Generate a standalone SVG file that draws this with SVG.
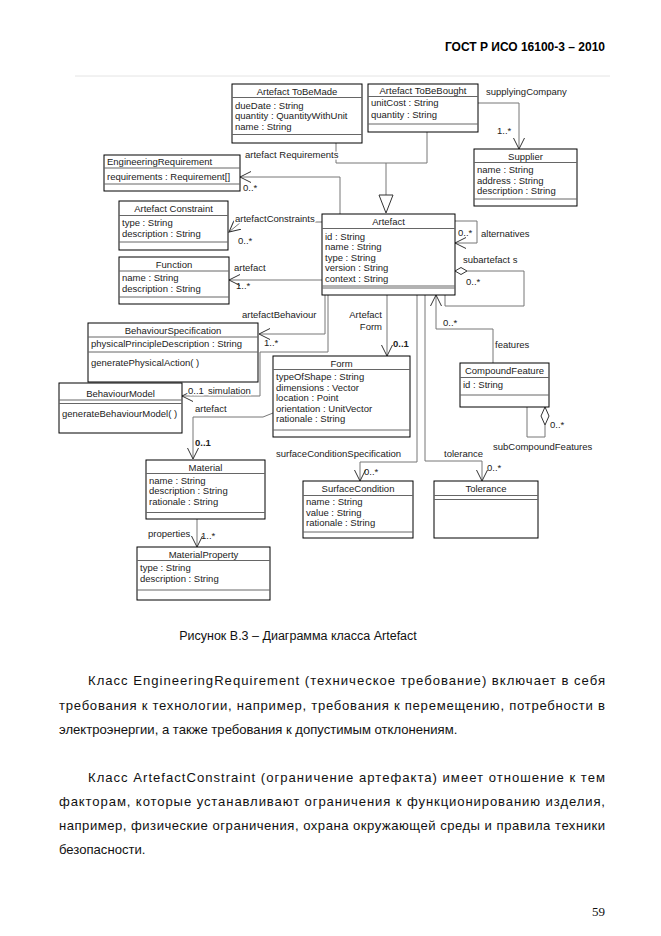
<svg xmlns="http://www.w3.org/2000/svg" width="661" height="936" viewBox="0 0 661 936">
<style>
.bg{fill:#fff}
.box{fill:#fff;stroke:#000;stroke-width:1}
.sep{stroke:#666;stroke-width:1}
.t{font-family:"Liberation Sans",Arial,sans-serif;font-size:9.5px;fill:#222}
.c{text-anchor:middle}
.e{text-anchor:end}
.b{font-weight:bold}
.conn{fill:none;stroke:#777;stroke-width:1}
.halo{paint-order:stroke;stroke:#fff;stroke-width:3px;stroke-linejoin:round}
.body{font-family:"Liberation Sans",Arial,sans-serif;font-size:13.1px;fill:#111}
</style>
<defs>
<marker id="arr" viewBox="0 0 12 12" refX="11" refY="6" markerWidth="12" markerHeight="12" markerUnits="userSpaceOnUse" orient="auto">
<path d="M0,0.5 L11,6 L0,11.5" fill="none" stroke="#333" stroke-width="1"/>
</marker>
</defs>
<rect class="bg" x="0" y="0" width="661" height="936"/>
<text x="605" y="51" text-anchor="end" style="font-family:'Liberation Sans',Arial,sans-serif;font-size:12px;font-weight:bold;fill:#000">ГОСТ Р ИСО 16100-3 – 2010</text>
<line x1="75" y1="76" x2="610" y2="76" stroke="#e4e4e4" stroke-width="1"/>

<g id="connectors">
<path class="conn" d="M478,103 H519 V149" marker-end="url(#arr)"/>
<path class="conn" d="M336,143 V163 H427 V132 M386,163 V195"/>
<polygon points="379,195 393,195 386,213" fill="#fff" stroke="#333" stroke-width="1"/>
<path class="conn" d="M340,214 V177 H240" marker-end="url(#arr)"/>
<path class="conn" d="M322,222 H241 L229,232" marker-end="url(#arr)"/>
<path class="conn" d="M322,280 H229" marker-end="url(#arr)"/>
<path class="conn" d="M325,295 V334 H259" marker-end="url(#arr)"/>
<path class="conn" d="M328,295 V352 H260 V396 H182" marker-end="url(#arr)"/>
<path class="conn" d="M387,295 V356" marker-end="url(#arr)"/>
<path class="conn" d="M273,413 L263,417 H193 V459" marker-end="url(#arr)"/>
<path class="conn" d="M197,519 V547" marker-end="url(#arr)"/>
<path class="conn" d="M417,295 V462 H360 V481" marker-end="url(#arr)"/>
<path class="conn" d="M425,295 V461 H482 V481" marker-end="url(#arr)"/>
<path class="conn" d="M493,363 V329 H436 V295" marker-end="url(#arr)"/>
<path class="conn" d="M467,271 H524 V306 H445 V295"/>
<polygon points="455,271 461,267.5 467,271 461,274.5" fill="#fff" stroke="#333" stroke-width="1"/>
<path class="conn" d="M455,221 H477 V243 H455" marker-end="url(#arr)"/>
<path class="conn" d="M545,425 V437 H527 V407"/>
<polygon points="545,407 549,416 545,425 541,416" fill="#fff" stroke="#333" stroke-width="1"/>

<text class="t" x="486" y="95">supplyingCompany</text>
<text class="t" x="497" y="134">1..*</text>
<text class="t halo" x="245" y="158">artefact Requirements</text>
<text class="t" x="243" y="191">0..*</text>
<text class="t halo" x="235" y="222">artefactConstraints</text>
<text class="t" x="238" y="244">0..*</text>
<text class="t" x="234" y="271">artefact</text>
<text class="t" x="236" y="289">1..*</text>
<text class="t" x="242" y="318">artefactBehaviour</text>
<text class="t" x="264" y="346">1..*</text>
<text class="t halo" x="188" y="394">0..1</text>
<text class="t halo" x="208" y="394">simulation</text>
<text class="t" x="195" y="412">artefact</text>
<text class="t b" x="195" y="446">0..1</text>
<text class="t e" x="382" y="318">Artefact</text>
<text class="t e" x="382" y="330">Form</text>
<text class="t b" x="393" y="347">0..1</text>
<text class="t" x="148" y="537">properties</text>
<text class="t" x="201" y="539">1..*</text>
<text class="t" x="276" y="457">surfaceConditionSpecification</text>
<text class="t" x="364" y="475">0..*</text>
<text class="t" x="444" y="457">tolerance</text>
<text class="t" x="487" y="471">0..*</text>
<text class="t" x="443" y="326">0..*</text>
<text class="t" x="495" y="348">features</text>
<text class="t" x="463" y="263">subartefact s</text>
<text class="t" x="466" y="285">0..*</text>
<text class="t" x="458" y="236">0..*</text>
<text class="t" x="481" y="237">alternatives</text>
<text class="t" x="550" y="428">0..*</text>
<text class="t" x="493" y="450">subCompoundFeatures</text>
</g>

<g id="ArtefactToBeMade">
<rect class="box" x="232" y="84" width="130" height="59"/>
<line class="sep" x1="232" y1="97.5" x2="362" y2="97.5"/>
<line class="sep" x1="232" y1="134.5" x2="362" y2="134.5"/>
<text class="t c" x="297" y="94.5">Artefact ToBeMade</text>
<text class="t" x="235" y="108.5">dueDate : String</text>
<text class="t" x="235" y="119">quantity : QuantityWithUnit</text>
<text class="t" x="235" y="129.5">name : String</text>
</g>

<g id="ArtefactToBeBought">
<rect class="box" x="368" y="84" width="110" height="48"/>
<line class="sep" x1="368" y1="96.5" x2="478" y2="96.5"/>
<line class="sep" x1="368" y1="124" x2="478" y2="124"/>
<text class="t c" x="423" y="93.5">Artefact ToBeBought</text>
<text class="t" x="371" y="106">unitCost : String</text>
<text class="t" x="371" y="117.5">quantity : String</text>
</g>

<g id="Supplier">
<rect class="box" x="474" y="149" width="103" height="57"/>
<line class="sep" x1="474" y1="162.5" x2="577" y2="162.5"/>
<line class="sep" x1="474" y1="199" x2="577" y2="199"/>
<text class="t c" x="525.5" y="159.5">Supplier</text>
<text class="t" x="477" y="172.5">name : String</text>
<text class="t" x="477" y="183.5">address : String</text>
<text class="t" x="477" y="194">description : String</text>
</g>

<g id="EngineeringRequirement">
<rect class="box" x="104" y="155" width="136" height="36"/>
<line class="sep" x1="104" y1="168" x2="240" y2="168"/>
<line class="sep" x1="104" y1="184" x2="240" y2="184"/>
<text class="t" x="107" y="165">EngineeringRequirement</text>
<text class="t" x="107" y="179.5">requirements : Requirement[]</text>
</g>

<g id="ArtefactConstraint">
<rect class="box" x="119" y="201" width="109" height="49"/>
<line class="sep" x1="119" y1="215.5" x2="228" y2="215.5"/>
<line class="sep" x1="119" y1="242" x2="228" y2="242"/>
<text class="t c" x="173.5" y="212">Artefact Constraint</text>
<text class="t" x="122" y="225.5">type : String</text>
<text class="t" x="122" y="236.5">description : String</text>
</g>

<g id="Function">
<rect class="box" x="119" y="257" width="110" height="47"/>
<line class="sep" x1="119" y1="271" x2="229" y2="271"/>
<line class="sep" x1="119" y1="297" x2="229" y2="297"/>
<text class="t c" x="174" y="268">Function</text>
<text class="t" x="122" y="281">name : String</text>
<text class="t" x="122" y="292">description : String</text>
</g>

<g id="Artefact">
<rect class="box" x="322" y="214" width="133" height="81"/>
<line class="sep" x1="322" y1="228.5" x2="455" y2="228.5"/>
<line class="sep" x1="322" y1="286" x2="455" y2="286"/>
<line class="sep" x1="322" y1="288" x2="455" y2="288"/>
<text class="t c" x="388.5" y="225">Artefact</text>
<text class="t" x="325" y="239.5">id : String</text>
<text class="t" x="325" y="250">name : String</text>
<text class="t" x="325" y="260.5">type : String</text>
<text class="t" x="325" y="271">version : String</text>
<text class="t" x="325" y="281.5">context : String</text>
</g>

<g id="BehaviourSpecification">
<rect class="box" x="88" y="323" width="170" height="59"/>
<line class="sep" x1="88" y1="337" x2="258" y2="337"/>
<line class="sep" x1="88" y1="352" x2="258" y2="352"/>
<text class="t c" x="173" y="333.5">BehaviourSpecification</text>
<text class="t" x="91" y="347">physicalPrincipleDescription : String</text>
<text class="t" x="91" y="366">generatePhysicalAction( )</text>
</g>

<g id="BehaviourModel">
<rect class="box" x="59" y="383" width="123" height="50"/>
<line class="sep" x1="59" y1="400" x2="182" y2="400"/>
<line class="sep" x1="59" y1="403.5" x2="182" y2="403.5"/>
<text class="t c" x="120.5" y="396.5">BehaviourModel</text>
<text class="t" x="62" y="417">generateBehaviourModel( )</text>
</g>

<g id="Form">
<rect class="box" x="273" y="356" width="137" height="81"/>
<line class="sep" x1="273" y1="369.5" x2="410" y2="369.5"/>
<line class="sep" x1="273" y1="430" x2="410" y2="430"/>
<text class="t c" x="341.5" y="366.5">Form</text>
<text class="t" x="276" y="380">typeOfShape : String</text>
<text class="t" x="276" y="390.5">dimensions : Vector</text>
<text class="t" x="276" y="401">location : Point</text>
<text class="t" x="276" y="411.5">orientation : UnitVector</text>
<text class="t" x="276" y="422">rationale : String</text>
</g>

<g id="CompoundFeature">
<rect class="box" x="460" y="363" width="89" height="44"/>
<line class="sep" x1="460" y1="377.5" x2="549" y2="377.5"/>
<line class="sep" x1="460" y1="395" x2="549" y2="395"/>
<text class="t c" x="504.5" y="374">CompoundFeature</text>
<text class="t" x="463" y="387.5">id : String</text>
</g>

<g id="Material">
<rect class="box" x="146" y="460" width="119" height="59"/>
<line class="sep" x1="146" y1="473.5" x2="265" y2="473.5"/>
<line class="sep" x1="146" y1="512.5" x2="265" y2="512.5"/>
<text class="t c" x="205.5" y="470.5">Material</text>
<text class="t" x="149" y="483.5">name : String</text>
<text class="t" x="149" y="494">description : String</text>
<text class="t" x="149" y="504.5">rationale : String</text>
</g>

<g id="MaterialProperty">
<rect class="box" x="137" y="547" width="133" height="53"/>
<line class="sep" x1="137" y1="560.5" x2="270" y2="560.5"/>
<line class="sep" x1="137" y1="590" x2="270" y2="590"/>
<text class="t c" x="203.5" y="557.5">MaterialProperty</text>
<text class="t" x="140" y="571">type : String</text>
<text class="t" x="140" y="581.5">description : String</text>
</g>

<g id="SurfaceCondition">
<rect class="box" x="303" y="481" width="110" height="57"/>
<line class="sep" x1="303" y1="495.5" x2="413" y2="495.5"/>
<line class="sep" x1="303" y1="532" x2="413" y2="532"/>
<text class="t c" x="358" y="492">SurfaceCondition</text>
<text class="t" x="306" y="505">name : String</text>
<text class="t" x="306" y="515.5">value : String</text>
<text class="t" x="306" y="526">rationale : String</text>
</g>

<g id="Tolerance">
<rect class="box" x="434" y="481" width="104" height="57"/>
<line class="sep" x1="434" y1="495.5" x2="538" y2="495.5"/>
<line class="sep" x1="434" y1="499.5" x2="538" y2="499.5"/>
<text class="t c" x="486" y="492">Tolerance</text>
</g>

<g id="caption">
<text class="body" x="298" y="640" text-anchor="middle" style="font-size:12.5px">Рисунок В.3 – Диаграмма класса Artefact</text>
</g>

<g id="text">
<text class="body" x="88" y="685" textLength="517" lengthAdjust="spacing">Класс EngineeringRequirement (техническое требование) включает в себя</text>
<text class="body" x="59" y="710" textLength="546" lengthAdjust="spacing">требования к технологии, например, требования к перемещению, потребности в</text>
<text class="body" x="59" y="734">электроэнергии, а также требования к допустимым отклонениям.</text>
<text class="body" x="88" y="782" textLength="517" lengthAdjust="spacing">Класс ArtefactConstraint (ограничение артефакта) имеет отношение к тем</text>
<text class="body" x="59" y="806" textLength="546" lengthAdjust="spacing">факторам, которые устанавливают ограничения к функционированию изделия,</text>
<text class="body" x="59" y="830" textLength="546" lengthAdjust="spacing">например, физические ограничения, охрана окружающей среды и правила техники</text>
<text class="body" x="59" y="854">безопасности.</text>
<text x="605" y="916" text-anchor="end" style="font-family:'Liberation Serif','Times New Roman',serif;font-size:13px;fill:#111">59</text>
</g>
</svg>
